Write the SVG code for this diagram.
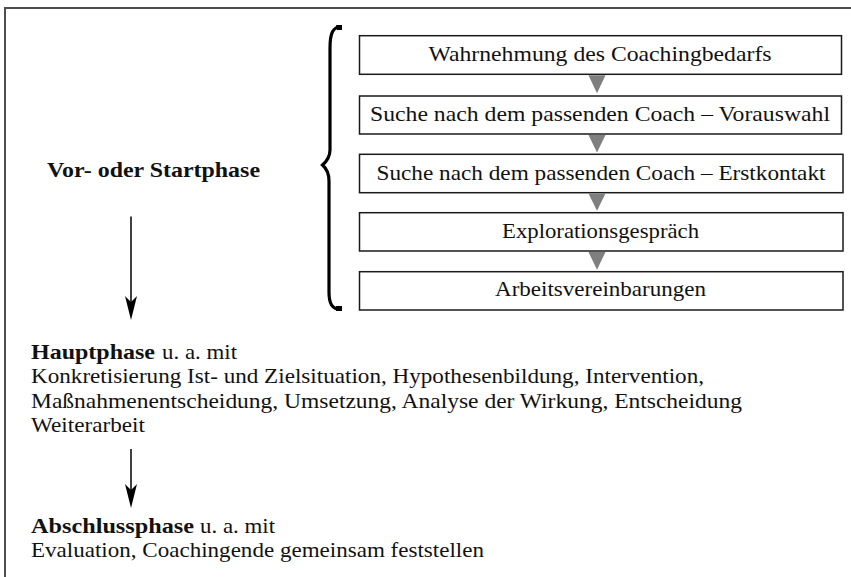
<svg xmlns="http://www.w3.org/2000/svg" width="851" height="577" viewBox="0 0 851 577">
<style>
.t{font-family:"Liberation Serif","Times New Roman",serif;font-size:22px;fill:#111}
.b{font-weight:bold}
.box{fill:#fff;stroke:#1a1a1a;stroke-width:1.5}
.tri{fill:#7f7f7f}
.ln{stroke:#000;stroke-width:1.5;fill:none}
.hd{fill:#000}
</style>
<rect x="0" y="0" width="851" height="577" fill="#fff"/>
<path d="M5,580 V8 H856" fill="none" stroke="#4d4d4d" stroke-width="2"/>
<g id="brace">
<path d="M341,26.5 C333,27 330,33 330,48 L330,150 C330,157 327,161 322.5,165 C327,169 329,173 329,181 L329,292 C329,304 332,309 341,309.5" fill="none" stroke="#000" stroke-width="3.2"/>
<path d="M336,25 L342,25 L342,30 L337,30 Z M336,306 L342,306 L342,311 L336,311 Z" fill="#000"/>
</g>
<g id="n1"><rect class="box" x="359.5" y="35.7" width="482" height="38.6"/><text class="t" x="600" y="61" text-anchor="middle" textLength="343" lengthAdjust="spacingAndGlyphs">Wahrnehmung des Coachingbedarfs</text></g>
<g id="n2"><rect class="box" x="359.5" y="96" width="482" height="38"/><text class="t" x="600" y="120.5" text-anchor="middle" textLength="460" lengthAdjust="spacingAndGlyphs">Suche nach dem passenden Coach – Vorauswahl</text></g>
<g id="n3"><rect class="box" x="359.5" y="154.3" width="483.5" height="38.4"/><text class="t" x="601" y="179.5" text-anchor="middle" textLength="449" lengthAdjust="spacingAndGlyphs">Suche nach dem passenden Coach – Erstkontakt</text></g>
<g id="n4"><rect class="box" x="359.5" y="212.7" width="483.5" height="38.3"/><text class="t" x="600.5" y="237.5" text-anchor="middle" textLength="197" lengthAdjust="spacingAndGlyphs">Explorationsgespräch</text></g>
<g id="n5"><rect class="box" x="359.5" y="271.7" width="483.5" height="38.3"/><text class="t" x="600.5" y="296" text-anchor="middle" textLength="211" lengthAdjust="spacingAndGlyphs">Arbeitsvereinbarungen</text></g>
<g id="n6"><text class="t b" x="47" y="177" textLength="213" lengthAdjust="spacingAndGlyphs">Vor- oder Startphase</text></g>
<g id="n7">
<text class="t b" x="31" y="358.5" textLength="124" lengthAdjust="spacingAndGlyphs">Hauptphase</text>
<text class="t" x="162" y="358.5" textLength="75" lengthAdjust="spacingAndGlyphs">u. a. mit</text>
<text class="t" x="31" y="383" textLength="673" lengthAdjust="spacingAndGlyphs">Konkretisierung Ist- und Zielsituation, Hypothesenbildung, Intervention,</text>
<text class="t" x="31" y="407.5" textLength="711" lengthAdjust="spacingAndGlyphs">Maßnahmenentscheidung, Umsetzung, Analyse der Wirkung, Entscheidung</text>
<text class="t" x="31" y="432" textLength="114" lengthAdjust="spacingAndGlyphs">Weiterarbeit</text>
</g>
<g id="n8">
<text class="t b" x="31" y="532.5" textLength="163" lengthAdjust="spacingAndGlyphs">Abschlussphase</text>
<text class="t" x="200" y="532.5" textLength="75" lengthAdjust="spacingAndGlyphs">u. a. mit</text>
<text class="t" x="31" y="556.5" textLength="453" lengthAdjust="spacingAndGlyphs">Evaluation, Coachingende gemeinsam feststellen</text>
</g>
<g id="connectors">
<polygon class="tri" points="588.5,75.3 605.5,75.3 597,93.3"/>
<polygon class="tri" points="588.5,135 605.5,135 597,152.5"/>
<polygon class="tri" points="588.5,193.6 605.5,193.6 597,210.8"/>
<polygon class="tri" points="588.5,252 605.5,252 597,269.8"/>
<line class="ln" x1="131" y1="216.5" x2="131" y2="305"/>
<path class="hd" d="M125,296 L131,320 L137,296 L131,302 Z"/>
<line class="ln" x1="131" y1="449" x2="131" y2="493"/>
<path class="hd" d="M125,484 L131,508 L137,484 L131,490 Z"/>
</g>
</svg>
